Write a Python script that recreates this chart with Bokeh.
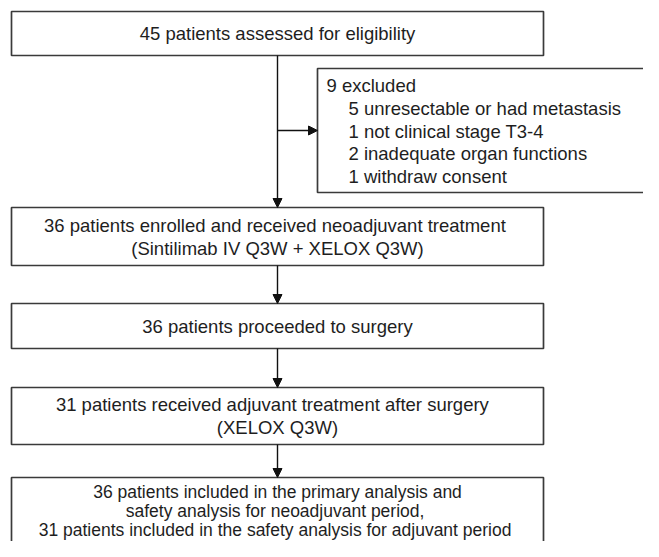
from bokeh.plotting import figure
from bokeh.models import Range1d, Arrow, NormalHead, ColumnDataSource
from bokeh.core.properties import value
from bokeh.embed import file_html
from bokeh.resources import INLINE

# ---- content (texts of the flow diagram) ----
box1_lines = ["45 patients assessed for eligibility"]
excl_title = ["9 excluded"]
excl_reasons = ["5 unresectable or had metastasis",
                "1 not clinical stage T3-4",
                "2 inadequate organ functions",
                "1 withdraw consent"]
box2_lines = ["36 patients enrolled and received neoadjuvant  treatment",
              "(Sintilimab IV Q3W + XELOX Q3W)"]
box3_lines = ["36 patients proceeded to surgery"]
box4_lines = ["31 patients received adjuvant  treatment  after surgery",
              "(XELOX Q3W)"]
box5_lines = ["36 patients included in the primary analysis and",
              "safety analysis for neoadjuvant  period,",
              "31 patients included in the safety analysis for adjuvant  period"]

# ---- layout (picture pixel coordinates) ----
W, H = 643, 541
p = figure(width=W, height=H, output_backend="svg", toolbar_location=None,
           x_range=Range1d(0, W), y_range=Range1d(H, 0),
           min_border=0, outline_line_color=None)
p.axis.visible = False
p.grid.visible = False
p.background_fill_color = "white"

LINE = "#3a3a3a"
TXT = "#1e1e1e"
FONT = value("Liberation Sans")
FS = "18.5px"
LS = 23  # line spacing

main_left, main_right, cx = 11, 543, 277
main_boxes = [(11, 55, box1_lines), (207, 265, box2_lines), (303, 348, box3_lines),
              (387, 444, box4_lines), (477, 640, box5_lines)]

for top, bot, lines in main_boxes:
    p.quad(left=main_left, right=main_right, top=top, bottom=bot,
           fill_color="white", line_color=LINE, line_width=1.7)

# exclusion box
p.quad(left=317, right=720, top=68, bottom=192, fill_color="white",
       line_color=LINE, line_width=1.7)

# centered texts
for i, (top, bot, lines) in enumerate(main_boxes):
    n = len(lines)
    if i < 4:
        mid = (top + bot) / 2
        ys = [mid + (k - (n - 1) / 2) * LS for k in range(n)]
        fs = FS
    else:
        ys = [491 + 19 * k for k in range(n)]
        fs = "17.5px"
    src = ColumnDataSource(dict(x=[cx] * n, y=ys, t=lines))
    p.text(x="x", y="y", text="t", source=src, text_align="center",
           text_baseline="middle", text_font=FONT, text_font_size=fs,
           text_color=TXT)

# exclusion texts
ex_y0 = 85
src = ColumnDataSource(dict(x=[326], y=[ex_y0], t=excl_title))
p.text(x="x", y="y", text="t", source=src, text_align="left",
       text_baseline="middle", text_font=FONT, text_font_size=FS, text_color=TXT)
ys = [ex_y0 + 22.8 * (k + 1) for k in range(len(excl_reasons))]
src = ColumnDataSource(dict(x=[348] * len(excl_reasons), y=ys, t=excl_reasons))
p.text(x="x", y="y", text="t", source=src, text_align="left",
       text_baseline="middle", text_font=FONT, text_font_size=FS, text_color=TXT)

# connectors
segments = [(55, 207), (265, 303), (348, 387), (444, 477)]
for y0, y1 in segments:
    p.add_layout(Arrow(x_start=cx, y_start=y0, x_end=cx, y_end=y1,
                       line_color="#111111", line_width=1.4,
                       end=NormalHead(size=9, fill_color="#111111",
                                      line_color="#111111", line_width=1)))
p.add_layout(Arrow(x_start=cx, y_start=130, x_end=317, y_end=130,
                   line_color="#111111", line_width=1.4,
                   end=NormalHead(size=9, fill_color="#111111",
                                  line_color="#111111", line_width=1)))

open("out.html", "w").write(file_html(p, INLINE))
